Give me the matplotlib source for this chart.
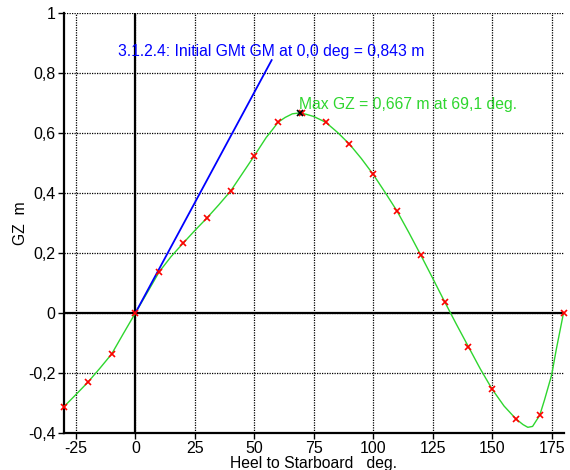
import matplotlib
matplotlib.use("Agg")
import matplotlib.pyplot as plt

plt.rcParams['font.family'] = ['Liberation Sans', 'DejaVu Sans']
plt.rcParams['axes.unicode_minus'] = False

# GZ curve (heel angle in deg, righting lever in m)
curve_heel = [-30, -25, -20, -15, -10, -5, 0, 5, 10, 15, 20, 25, 30, 35, 40, 45,
              50, 55, 58, 60, 63, 66, 69.1, 72, 75, 80, 85, 90, 95, 100, 105, 110,
              115, 120, 125, 130, 135, 140, 145, 150, 155, 160, 163, 165, 167, 170,
              172, 175, 177, 180]
curve_gz = [-0.312, -0.272, -0.231, -0.185, -0.137, -0.068, 0.0, 0.068, 0.137, 0.188,
            0.232, 0.275, 0.316, 0.36, 0.406, 0.465, 0.524, 0.585, 0.615, 0.636,
            0.652, 0.664, 0.667, 0.662, 0.655, 0.636, 0.602, 0.563, 0.515, 0.462,
            0.402, 0.34, 0.268, 0.193, 0.116, 0.038, -0.038, -0.112, -0.186, -0.254,
            -0.31, -0.353, -0.372, -0.381, -0.378, -0.341, -0.29, -0.207, -0.12, 0.0]

# Tabulated stability points
pts_heel = [-30, -20, -10, 0, 10, 20, 30, 40, 50, 60, 70, 80, 90, 100, 110, 120,
            130, 140, 150, 160, 170, 180]
pts_gz = [-0.312, -0.231, -0.137, 0.0, 0.137, 0.232, 0.316, 0.406, 0.524, 0.636,
          0.667, 0.636, 0.563, 0.462, 0.34, 0.193, 0.038, -0.112, -0.254, -0.353,
          -0.341, 0.0]

# Initial GM tangent: rises by GM over one radian of heel
gm_heel = [0.0, 57.3]
gm_value = [0.0, 0.843]

max_heel = 69.1
max_gz = 0.667

x_ticks = [-25, 0, 25, 50, 75, 100, 125, 150, 175]
x_labels = ["-25", "0", "25", "50", "75", "100", "125", "150", "175"]
y_ticks = [-0.4, -0.2, 0, 0.2, 0.4, 0.6, 0.8, 1.0]
y_labels = ["-0,4", "-0,2", "0", "0,2", "0,4", "0,6", "0,8", "1"]

green = '#2ed62e'
fs = 11.3

fig = plt.figure(figsize=(5.7, 4.7), dpi=100)
ax = fig.add_axes([0.1123, 0.0787, 0.8763, 0.8936])
ax.set_xlim(-30, 180)
ax.set_ylim(-0.4, 1.0)

ax.set_xticks(x_ticks)
ax.set_xticklabels(x_labels)
ax.set_yticks(y_ticks)
ax.set_yticklabels(y_labels)
ax.tick_params(labelsize=11.5, length=4, width=1, colors='black', pad=2)

ax.grid(True, color='black', linestyle=(0, (1, 1)), linewidth=0.9)
ax.set_axisbelow(True)
for side in ('top', 'right'):
    ax.spines[side].set_visible(False)
for side in ('left', 'bottom'):
    ax.spines[side].set_linewidth(1.6)

ax.axhline(0, color='black', linewidth=1.6, zorder=1.5)
ax.axvline(0, color='black', linewidth=1.6, zorder=1.5)

ax.plot(curve_heel, curve_gz, color=green, linewidth=1.0, zorder=3, clip_on=False)
ax.plot(gm_heel, gm_value, color='#0000ff', linewidth=1.3, zorder=3)
ax.plot(pts_heel, pts_gz, linestyle='none', marker='x', color='red',
        markersize=4.8, markeredgewidth=1.2, zorder=4, clip_on=False)
ax.plot([max_heel], [max_gz], linestyle='none', marker='x', color='black',
        markersize=4.8, markeredgewidth=1.2, zorder=5)

ax.text(-7.5, 0.872, "3.1.2.4: Initial GMt GM at 0,0 deg = 0,843 m",
        color='#0000ff', fontsize=fs, va='center', ha='left')
ax.text(69.0, 0.695, "Max GZ = %s m at %s deg." % (f"{max_gz:.3f}".replace('.', ','),
                                                    f"{max_heel:.1f}".replace('.', ',')),
        color=green, fontsize=fs, va='center', ha='left')

ax.set_xlabel("Heel to Starboard   deg.", fontsize=fs, labelpad=0)
ax.set_ylabel("GZ  m", fontsize=fs, labelpad=0)

fig.savefig("out.png", dpi=100)
